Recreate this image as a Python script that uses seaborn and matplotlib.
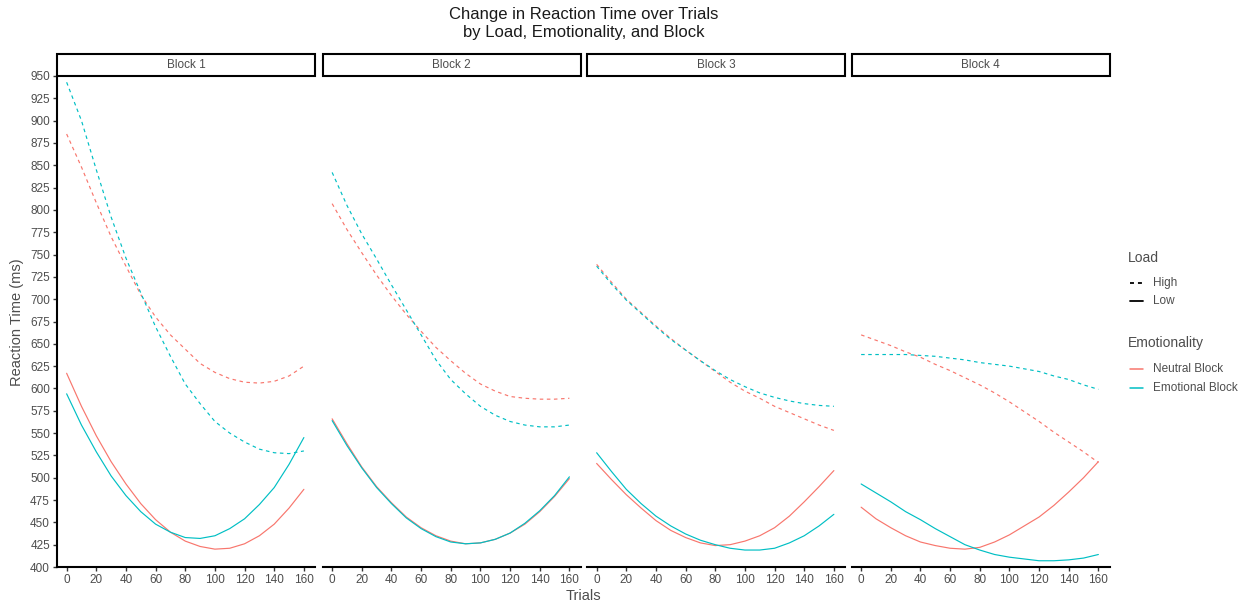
import numpy as np
import pandas as pd
import matplotlib
matplotlib.use("Agg")
import matplotlib.pyplot as plt
from matplotlib.lines import Line2D
from matplotlib.patches import Rectangle
import seaborn as sns

# ---- data: smoothed reaction time (ms) by trial, per block / load / emotionality ----
trials = [0, 10, 20, 30, 40, 50, 60, 70, 80, 90, 100, 110, 120, 130, 140, 150, 160]
blocks = ["Block 1", "Block 2", "Block 3", "Block 4"]
load_levels = ["High", "Low"]
emotion_levels = ["Neutral Block", "Emotional Block"]

# Block 1
b1_neutral_high = [885, 848, 808, 770, 737, 705, 680, 660, 644, 628, 618, 611, 607, 606, 608, 614, 625]
b1_emotional_high = [943, 900, 845, 792, 746, 707, 669, 636, 605, 583, 563, 550, 540, 532, 528, 527, 530]
b1_neutral_low = [617, 580, 547, 518, 493, 471, 453, 439, 429, 423, 420, 421, 426, 435, 448, 466, 487]
b1_emotional_low = [594, 559, 529, 502, 480, 462, 448, 439, 433, 432, 435, 443, 454, 470, 489, 515, 545]

# Block 2
b2_neutral_high = [807, 778, 752, 727, 704, 683, 664, 646, 631, 617, 605, 597, 591, 589, 588, 588, 589]
b2_emotional_high = [842, 805, 773, 745, 716, 688, 660, 632, 610, 594, 580, 570, 563, 559, 557, 557, 559]
b2_neutral_low = [566, 538, 512, 490, 472, 456, 444, 435, 429, 426, 427, 431, 438, 448, 462, 479, 499]
b2_emotional_low = [564, 536, 511, 489, 471, 455, 443, 434, 428, 426, 427, 431, 438, 449, 463, 480, 501]

# Block 3
b3_neutral_high = [739, 719, 700, 685, 670, 656, 643, 631, 619, 607, 597, 589, 580, 573, 566, 559, 553]
b3_emotional_high = [737, 717, 699, 684, 669, 655, 643, 631, 620, 610, 602, 595, 590, 586, 583, 581, 580]
b3_neutral_low = [516, 498, 481, 466, 452, 441, 433, 427, 424, 425, 429, 435, 444, 457, 473, 490, 508]
b3_emotional_low = [528, 507, 487, 471, 457, 446, 437, 430, 425, 421, 419, 419, 421, 427, 435, 446, 459]

# Block 4
b4_neutral_high = [660, 654, 648, 641, 635, 627, 620, 612, 604, 595, 585, 574, 563, 551, 540, 529, 517]
b4_emotional_high = [638, 638, 638, 638, 637, 636, 634, 632, 629, 627, 625, 622, 619, 614, 610, 604, 599]
b4_neutral_low = [467, 454, 444, 435, 428, 424, 421, 420, 422, 428, 436, 446, 456, 469, 484, 500, 518]
b4_emotional_low = [493, 483, 473, 462, 453, 443, 434, 425, 419, 414, 411, 409, 407, 407, 408, 410, 414]

series = {
    ("Block 1", "High", "Neutral Block"): b1_neutral_high,
    ("Block 1", "High", "Emotional Block"): b1_emotional_high,
    ("Block 1", "Low", "Neutral Block"): b1_neutral_low,
    ("Block 1", "Low", "Emotional Block"): b1_emotional_low,
    ("Block 2", "High", "Neutral Block"): b2_neutral_high,
    ("Block 2", "High", "Emotional Block"): b2_emotional_high,
    ("Block 2", "Low", "Neutral Block"): b2_neutral_low,
    ("Block 2", "Low", "Emotional Block"): b2_emotional_low,
    ("Block 3", "High", "Neutral Block"): b3_neutral_high,
    ("Block 3", "High", "Emotional Block"): b3_emotional_high,
    ("Block 3", "Low", "Neutral Block"): b3_neutral_low,
    ("Block 3", "Low", "Emotional Block"): b3_emotional_low,
    ("Block 4", "High", "Neutral Block"): b4_neutral_high,
    ("Block 4", "High", "Emotional Block"): b4_emotional_high,
    ("Block 4", "Low", "Neutral Block"): b4_neutral_low,
    ("Block 4", "Low", "Emotional Block"): b4_emotional_low,
}

rows = []
for (blk, load, emo), vals in series.items():
    for t, v in zip(trials, vals):
        rows.append({"Block": blk, "Load": load, "Emotionality": emo, "Trial": t, "RT": v})
df = pd.DataFrame(rows)

# ---- styling ----
sns.set_theme(style="ticks")
plt.rcParams["font.family"] = ["Liberation Sans", "DejaVu Sans"]

palette = {"Neutral Block": "#F8766D", "Emotional Block": "#00BFC4"}
dashes = {"High": (3, 3), "Low": ""}
text_grey = "#4D4D4D"
lw = 0.85

W, H = 1253, 606
fig = plt.figure(figsize=(W / 100, H / 100), dpi=100)


def fx(px):
    return px / W


def fy(py):
    return 1 - py / H


panel_left = [57, 322.5, 587, 851.5]
panel_w = 258
top_px, bottom_px = 76, 567
strip_h = 22

axes = []
for i, blk in enumerate(blocks):
    ax = fig.add_axes([fx(panel_left[i]), fy(bottom_px), panel_w / W, (bottom_px - top_px) / H])
    axes.append(ax)
    sub = df[df["Block"] == blk]
    sns.lineplot(
        data=sub, x="Trial", y="RT", hue="Emotionality", style="Load",
        hue_order=emotion_levels, style_order=load_levels,
        palette=palette, dashes=dashes, estimator=None, lw=lw,
        legend=False, ax=ax,
    )
    ax.set_xlim(-6.5, 167.5)
    ax.set_ylim(400, 950)
    ax.set_xticks(range(0, 161, 20))
    ax.set_yticks(range(400, 951, 25))
    ax.set_xlabel("")
    ax.set_ylabel("")
    for s in ["top", "right"]:
        ax.spines[s].set_visible(False)
    ax.spines["bottom"].set_linewidth(1.5)
    ax.spines["bottom"].set_color("black")
    ax.tick_params(axis="x", length=3, width=1, color="#333333", labelsize=8.5,
                   labelcolor=text_grey, pad=2)
    if i == 0:
        ax.spines["left"].set_linewidth(1.5)
        ax.spines["left"].set_color("black")
        ax.tick_params(axis="y", length=3, width=1, color="#333333", labelsize=8.5,
                       labelcolor=text_grey, pad=2)
    else:
        ax.spines["left"].set_visible(False)
        ax.tick_params(axis="y", left=False, labelleft=False)

    # facet strip
    frac = strip_h / (bottom_px - top_px)
    ax.add_patch(Rectangle((0, 1.0), 1, frac, transform=ax.transAxes, facecolor="white",
                           edgecolor="black", linewidth=1.5, clip_on=False, zorder=5))
    ax.text(0.5, 1 + frac / 2, blk, transform=ax.transAxes, ha="center", va="center",
            fontsize=8.5, color=text_grey, zorder=6)

# titles and axis labels
fig.text(fx(584), fy(15), "Change in Reaction Time over Trials", ha="center", va="center",
         fontsize=12, color="#1A1A1A")
fig.text(fx(584), fy(33), "by Load, Emotionality, and Block", ha="center", va="center",
         fontsize=12, color="#1A1A1A")
fig.text(fx(583), fy(596), "Trials", ha="center", va="center", fontsize=10.5, color=text_grey)
fig.text(fx(17), fy(322), "Reaction Time (ms)", ha="center", va="center", rotation=90,
         fontsize=10.5, color=text_grey)

# legends, laid out as key glyph + label rows
key_x0, key_x1, label_x, title_x = 1130, 1143, 1153, 1128


def legend_title(text, y):
    fig.text(fx(title_x), fy(y), text, ha="left", va="center", fontsize=10, color=text_grey)


def legend_row(label, y, **line_kw):
    fig.add_artist(Line2D([fx(key_x0), fx(key_x1)], [fy(y), fy(y)],
                          transform=fig.transFigure, **line_kw))
    fig.text(fx(label_x), fy(y), label, ha="left", va="center", fontsize=8.5, color=text_grey)


legend_title("Load", 258)
legend_row("High", 283, color="black", lw=1.3, dashes=(2.2, 2.2))
legend_row("Low", 301, color="black", lw=1.3)

legend_title("Emotionality", 343)
legend_row("Neutral Block", 369, color=palette["Neutral Block"], lw=1.1)
legend_row("Emotional Block", 388, color=palette["Emotional Block"], lw=1.1)

fig.savefig("out.png", dpi=100, facecolor="white")
